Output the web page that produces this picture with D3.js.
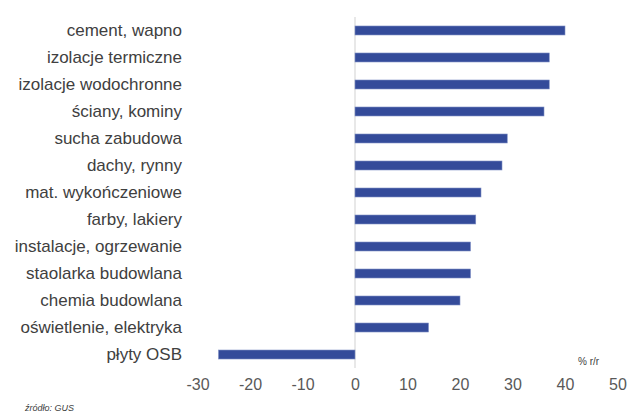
<!DOCTYPE html>
<html><head><meta charset="utf-8">
<script src="https://cdn.jsdelivr.net/npm/d3@7"></script>
<style>body{margin:0;background:#fff;}svg{display:block;font-family:"Liberation Sans",Arial,sans-serif;}</style>
</head><body>
<svg id="c" width="628" height="414"></svg>
<script>
const categories = ["cement, wapno","izolacje termiczne","izolacje wodochronne","ściany, kominy","sucha zabudowa","dachy, rynny","mat. wykończeniowe","farby, lakiery","instalacje, ogrzewanie","staolarka budowlana","chemia budowlana","oświetlenie, elektryka","płyty OSB"];
const values = [40,37,37,36,29,28,24,23,22,22,20,14,-26];
const xTicks = [-30,-20,-10,0,10,20,30,40,50];
const unitLabel = "% r/r";
const sourceLabel = "źródło: GUS";

const svg = d3.select("#c");
const x = d3.scaleLinear().domain([-30,50]).range([197.5,617.5]);
const y = d3.scaleBand().domain(categories).range([17,368]).paddingInner(0.667).paddingOuter(0.333);

// zero line
svg.append("line").attr("x1",x(0)).attr("x2",x(0)).attr("y1",17).attr("y2",368)
  .attr("stroke","#d9d9d9").attr("stroke-width",1.2);

svg.append("g").selectAll("rect").data(values).join("rect")
  .attr("x",(d)=>x(Math.min(0,d)))
  .attr("width",(d)=>Math.abs(x(d)-x(0)))
  .attr("y",(d,i)=>y(categories[i]))
  .attr("height",y.bandwidth())
  .attr("fill","#344b9a")
  .attr("stroke","#7f8fc4").attr("stroke-width",0.6);

// category labels
svg.append("g").selectAll("text").data(categories).join("text")
  .attr("x",182).attr("y",(d)=>y(d)+y.bandwidth()/2)
  .attr("dy","0.35em").attr("text-anchor","end")
  .attr("font-size",17).attr("fill","#404040").text((d)=>d);

// x axis
const ax = svg.append("g").attr("transform","translate(0,368)")
  .call(d3.axisBottom(x).tickValues(xTicks).tickSize(0).tickPadding(11).tickFormat((d)=>String(d)));
ax.select(".domain").remove();
ax.selectAll("text").attr("font-size",16).attr("fill","#595959").attr("font-family","Liberation Sans, Arial, sans-serif");

svg.append("text").attr("x",578).attr("y",365).attr("font-size",10).attr("fill","#404040").text(unitLabel);
svg.append("text").attr("x",25).attr("y",411).attr("font-size",9).attr("font-style","italic").attr("fill","#404040").text(sourceLabel);
</script>
</body></html>
